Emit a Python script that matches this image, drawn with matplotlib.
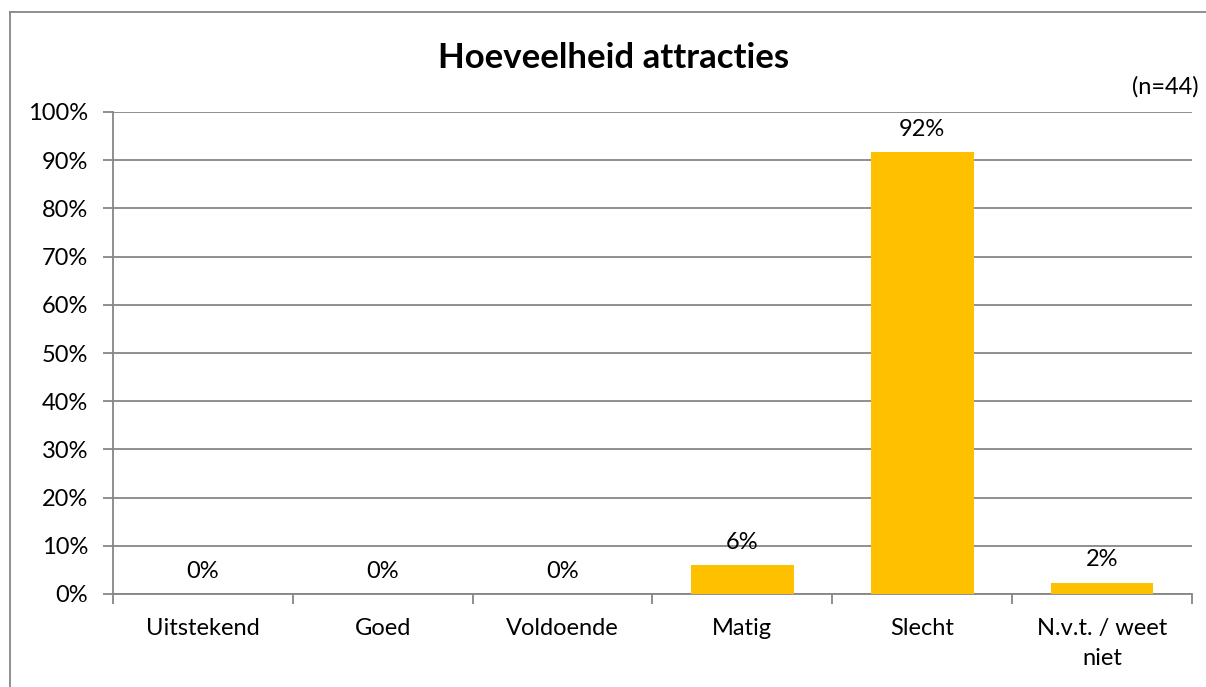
import numpy as np
import matplotlib
matplotlib.use('Agg')
from matplotlib import pyplot as plt
from matplotlib.lines import Line2D

categories = ['Uitstekend', 'Goed', 'Voldoende', 'Matig', 'Slecht', 'N.v.t. / weet\nniet']
values = [0.0, 0.0, 0.0, 6.0, 91.7, 2.3]
labels = ['0%', '0%', '0%', '6%', '92%', '2%']
yticks = np.arange(0, 101, 10)

plt.rcParams['font.family'] = ['Lato', 'DejaVu Sans']
gray = '#868686'
fs = 17

fig = plt.figure(figsize=(12.06, 6.87), dpi=100)
ax = fig.add_axes([113 / 1206, 93 / 687, 1079 / 1206, 482 / 687])

x = np.arange(len(categories))
ax.bar(x, values, width=0.57, color='#FFC000', zorder=3)

for xi, v, lab in zip(x, values, labels):
    ax.annotate(lab, (xi, v), xytext=(0, 9), textcoords='offset points',
                ha='center', va='bottom', fontsize=fs)

ax.set_xlim(-0.5, len(categories) - 0.5)
ax.set_ylim(0, 100)
ax.set_yticks(yticks)
ax.set_yticklabels([f'{t}%' for t in yticks], fontsize=fs)
ax.set_xticks(x)
ax.set_xticklabels(categories, fontsize=fs, va='top', linespacing=1.55)
ax.set_xticks(np.arange(-0.5, len(categories)), minor=True)
ax.tick_params(axis='x', which='major', length=0, pad=17)
ax.tick_params(axis='x', which='minor', length=7, color=gray, width=1.3)
ax.tick_params(axis='y', length=7, color=gray, width=1.3, pad=11)

ax.yaxis.grid(True, color=gray, linewidth=1.3, zorder=0)
for side in ['top', 'right']:
    ax.spines[side].set_visible(False)
for side in ['left', 'bottom']:
    ax.spines[side].set_color(gray)
    ax.spines[side].set_linewidth(1.3)

fig.text(614 / 1206, 1 - 58 / 687, 'Hoeveelheid attracties', ha='center', va='center',
         fontsize=25, fontweight='bold')
fig.text(1199 / 1206, 1 - 87 / 687, '(n=44)', ha='right', va='center', fontsize=fs)

# chart frame (top and left edges visible)
fig.add_artist(Line2D([10 / 1206, 1.02], [1 - 12 / 687, 1 - 12 / 687], color=gray, linewidth=1.3))
fig.add_artist(Line2D([10 / 1206, 10 / 1206], [-0.02, 1 - 12 / 687], color=gray, linewidth=1.3))

fig.savefig('out.png', dpi=100)
